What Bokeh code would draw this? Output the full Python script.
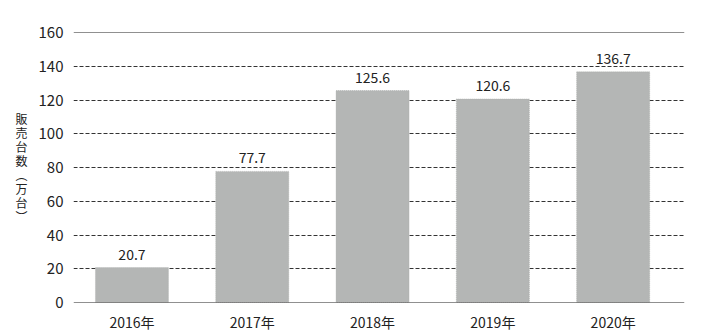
from bokeh.plotting import figure
from bokeh.models import ColumnDataSource, Range1d, FixedTicker, Span
from bokeh.core.properties import value
from bokeh.embed import file_html
from bokeh.resources import INLINE

years = ["2016年", "2017年", "2018年", "2019年", "2020年"]
sales = [20.7, 77.7, 125.6, 120.6, 136.7]
y_ticks = [0, 20, 40, 60, 80, 100, 120, 140, 160]
y_title = "販\n売\n台\n数\n︵\n万\n台\n︶"

FONT = "Noto Sans CJK JP"
xs = list(range(len(years)))
src = ColumnDataSource(dict(x=xs, top=sales, lab=[f"{v:.1f}" for v in sales]))

p = figure(width=714, height=336, output_backend="svg", toolbar_location=None,
           x_range=Range1d(-0.486, 4.593), y_range=Range1d(0, 160),
           min_border_left=73, min_border_right=30, min_border_top=32, min_border_bottom=34)
p.outline_line_color = None
p.background_fill_color = "white"
p.border_fill_color = "white"

p.vbar(x="x", top="top", width=0.607, source=src, fill_color="#b4b6b5",
       line_color="#a9abaa", line_width=0.6, line_dash="1 1")
p.text(x="x", y="top", text="lab", source=src, text_align="center",
       text_baseline="bottom", y_offset=-8, text_font=value(FONT),
       text_font_size="14px", text_color="#222222")

p.xgrid.grid_line_color = None
p.ygrid.ticker = FixedTicker(ticks=y_ticks[1:-1])
p.ygrid.grid_line_color = "#333333"
p.ygrid.grid_line_dash = "4 2"
p.ygrid.grid_line_width = 1
p.ygrid.level = "underlay"

for loc in (y_ticks[0], y_ticks[-1]):
    p.add_layout(Span(location=loc, dimension="width", line_color="#222222", line_width=1.2))

for ax in (p.xaxis[0], p.yaxis[0]):
    ax.axis_line_color = None
    ax.major_tick_line_color = None
    ax.minor_tick_line_color = None
    ax.major_tick_out = 0
    ax.major_tick_in = 0
    ax.minor_tick_out = 0
    ax.major_label_text_font = FONT
    ax.major_label_text_color = "#222222"

p.yaxis.ticker = FixedTicker(ticks=y_ticks)
p.yaxis.major_label_text_font_size = "15px"
p.yaxis.major_label_standoff = 10
p.yaxis.axis_label = y_title
p.yaxis.axis_label_orientation = "horizontal"
p.yaxis.axis_label_text_font = FONT
p.yaxis.axis_label_text_font_style = "normal"
p.yaxis.axis_label_text_font_size = "12px"
p.yaxis.axis_label_text_color = "#222222"
p.yaxis.axis_label_text_line_height = 0.82
p.yaxis.axis_label_standoff = 8

p.xaxis.ticker = FixedTicker(ticks=xs)
p.xaxis.major_label_overrides = {i: y for i, y in zip(xs, years)}
p.xaxis.major_label_text_font_size = "14px"
p.xaxis.major_label_standoff = 9

open("out.html", "w").write(file_html(p, INLINE))
